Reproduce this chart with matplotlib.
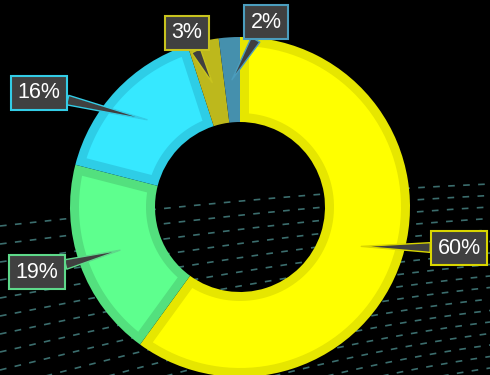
import numpy as np
import matplotlib
matplotlib.use('Agg')
import matplotlib.pyplot as plt
from matplotlib.patches import Polygon

# chart data
labels = ['60%', '19%', '16%', '3%', '2%']
values = [60, 19, 16, 3, 2]
fill_colors = ['#ffff00', '#5eff8e', '#36e8ff', '#cfcc1f', '#4b9dbd']
band_colors = ['#e6e600', '#53e07e', '#2ecde6', '#bdb81c', '#4590ad']
border_colors = ['#d9d600', '#5ed98a', '#33cce6', '#c8c31e', '#4b9dbd']

# label box centres in pixels (from top-left)
label_pos = [(459, 248), (37, 272), (39, 93), (187, 33), (266, 22)]

W, H = 490, 375
cx, cy = 240, H - 207
r_out, r_in = 170, 85
band = 9


def inset_sector(w, d):
    # annular sector shrunk by d pixels on every side
    t1, t2 = np.deg2rad(w.theta1), np.deg2rad(w.theta2)
    ro, ri = w.r - d, w.r - w.width + d
    ao, ai = np.arcsin(d / ro), np.arcsin(d / ri)
    if t2 - t1 <= 2 * ai:
        return None
    a = np.linspace(t1 + ao, t2 - ao, 80)
    b = np.linspace(t2 - ai, t1 + ai, 80)
    xs = np.concatenate([ro * np.cos(a), ri * np.cos(b)]) + w.center[0]
    ys = np.concatenate([ro * np.sin(a), ri * np.sin(b)]) + w.center[1]
    return np.column_stack([xs, ys])


fig = plt.figure(figsize=(4.9, 3.75), dpi=100, facecolor='black')
ax = fig.add_axes([0, 0, 1, 1])
ax.set_facecolor('black')

# background dashed waves (decoration)
xs = np.linspace(0, W, 300)
t = xs / W
for k in range(22):
    yl = 226 + 18 * k
    yr = 184 + 11.5 * k
    y = yl + (yr - yl) * (0.5 * np.sin(np.pi / 2 * t) + 0.5 * t)
    ax.plot(xs, H - y, color='#3b6d6d', lw=1.2, dashes=(4, 5), zorder=0)

wedges, _ = ax.pie(values, colors=band_colors, startangle=90, counterclock=False,
                   radius=r_out, center=(cx, cy), frame=True,
                   wedgeprops=dict(width=r_out - r_in, linewidth=0))
for w, c in zip(wedges, fill_colors):
    w.set_zorder(2)
    pts = inset_sector(w, band)
    if pts is not None:
        ax.add_patch(Polygon(pts, closed=True, fc=c, lw=0, zorder=3))

r_mid = (r_out + r_in) / 2
cum = 0
for i, v in enumerate(values):
    ang = np.deg2rad(90 - 360 * (cum + v / 2) / 100)
    cum += v
    tip = (cx + r_mid * np.cos(ang), cy + r_mid * np.sin(ang))
    bx, by = label_pos[i]
    ax.annotate(labels[i], xy=tip, xytext=(bx, H - by), ha='center', va='center',
                fontsize=15.5, color='white', family='Liberation Sans', zorder=5,
                bbox=dict(boxstyle='square,pad=0.3', fc='#404040', ec=border_colors[i], lw=1.5),
                arrowprops=dict(arrowstyle='wedge,tail_width=0.45', fc='#404040',
                                ec=border_colors[i], lw=1, shrinkA=0, shrinkB=0))

ax.set_xlim(0, W)
ax.set_ylim(0, H)
ax.set_aspect('equal')
ax.axis('off')

plt.savefig('out.png', dpi=100, facecolor='black')
